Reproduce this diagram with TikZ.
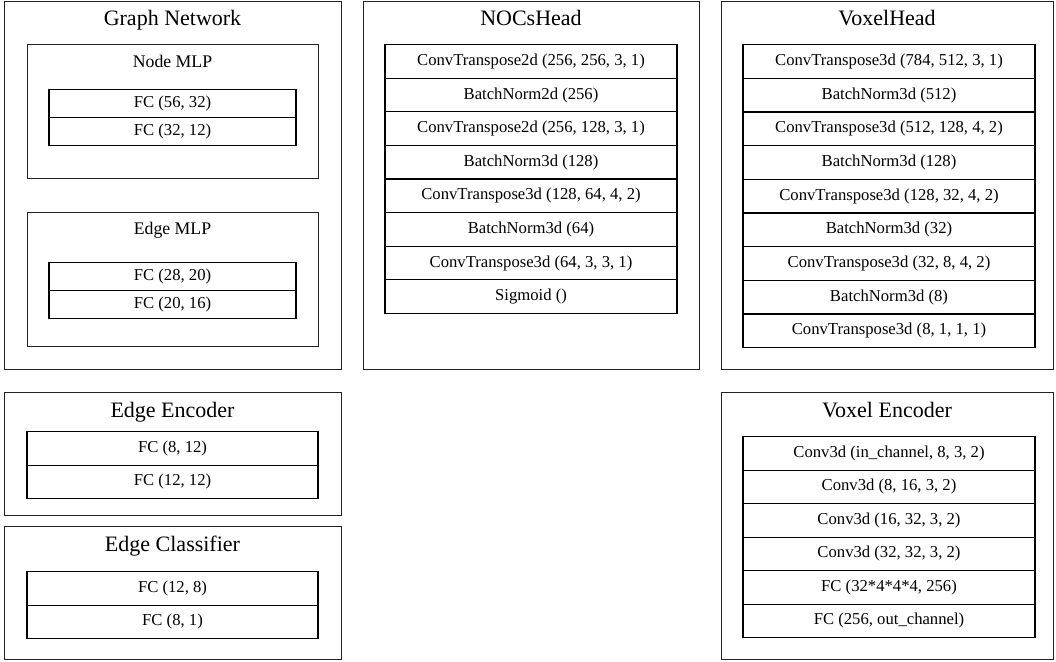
\documentclass[tikz,border=0pt]{standalone}
\usepackage{fontspec}
\setmainfont{Liberation Serif}
\definecolor{linec}{HTML}{222222}
\tikzset{
  panel/.style={draw=linec, line width=0.9pt, rectangle, inner sep=0pt, anchor=north west},
  titletext/.style={font=\fontsize{16.5}{18}\selectfont, anchor=base, inner sep=0pt},
  subtext/.style={font=\fontsize{13.3}{15}\selectfont, anchor=base, inner sep=0pt},
  layerbox/.style={draw=black, line width=0.9pt, rectangle, inner sep=0pt, anchor=north,
    font=\fontsize{12.5}{14}\selectfont},
}
\begin{document}
\begin{tikzpicture}[x=0.75pt,y=-0.75pt]
\useasboundingbox (0,0) rectangle (1056,661);

% ---------- Graph Network ----------
\node[panel, minimum width=337*0.75pt, minimum height=368*0.75pt] (gn) at (4,1) {};
\node[titletext] (gnt) at (172.5,25) {Graph Network};
\node[panel, minimum width=291*0.75pt, minimum height=134*0.75pt] (nm) at (27,44) {};
\node[subtext] (nmt) at (172.5,67) {Node MLP};
\node[layerbox, minimum width=247*0.75pt, minimum height=28*0.75pt] (nm1) at (172.5,89) {FC (56, 32)};
\node[layerbox, minimum width=247*0.75pt, minimum height=28*0.75pt] (nm2) at (172.5,117) {FC (32, 12)};
\node[panel, minimum width=291*0.75pt, minimum height=134*0.75pt] (em) at (27,212) {};
\node[subtext] (emt) at (172.5,234) {Edge MLP};
\node[layerbox, minimum width=247*0.75pt, minimum height=28*0.75pt] (em1) at (172.5,262) {FC (28, 20)};
\node[layerbox, minimum width=247*0.75pt, minimum height=28*0.75pt] (em2) at (172.5,290) {FC (20, 16)};

% ---------- NOCsHead ----------
\node[panel, minimum width=336*0.75pt, minimum height=368*0.75pt] (nh) at (363,1) {};
\node[titletext] (nht) at (531,25) {NOCsHead};
\foreach \t [count=\i from 0] in {ConvTranspose2d (256{,} 256{,} 3{,} 1),BatchNorm2d (256),ConvTranspose2d (256{,} 128{,} 3{,} 1),BatchNorm3d (128),ConvTranspose3d (128{,} 64{,} 4{,} 2),BatchNorm3d (64),ConvTranspose3d (64{,} 3{,} 3{,} 1),Sigmoid ()}
  \node[layerbox, minimum width=292*0.75pt, minimum height=33.6*0.75pt] (nh\i) at (531,44+33.6*\i) {\t};

% ---------- VoxelHead ----------
\node[panel, minimum width=332*0.75pt, minimum height=368*0.75pt] (vh) at (721,1) {};
\node[titletext] (vht) at (887,25) {VoxelHead};
\foreach \t [count=\i from 0] in {ConvTranspose3d (784{,} 512{,} 3{,} 1),BatchNorm3d (512),ConvTranspose3d (512{,} 128{,} 4{,} 2),BatchNorm3d (128),ConvTranspose3d (128{,} 32{,} 4{,} 2),BatchNorm3d (32),ConvTranspose3d (32{,} 8{,} 4{,} 2),BatchNorm3d (8),ConvTranspose3d (8{,} 1{,} 1{,} 1)}
  \node[layerbox, minimum width=292*0.75pt, minimum height=33.67*0.75pt] (vh\i) at (889,44+33.67*\i) {\t};

% ---------- Edge Encoder ----------
\node[panel, minimum width=337*0.75pt, minimum height=123*0.75pt] (ee) at (4,392) {};
\node[titletext] (eet) at (172.5,417) {Edge Encoder};
\node[layerbox, minimum width=291*0.75pt, minimum height=33.5*0.75pt] (ee1) at (172.5,431) {FC (8, 12)};
\node[layerbox, minimum width=291*0.75pt, minimum height=33.5*0.75pt] (ee2) at (172.5,464.5) {FC (12, 12)};

% ---------- Edge Classifier ----------
\node[panel, minimum width=337*0.75pt, minimum height=133*0.75pt] (ec) at (4,526) {};
\node[titletext] (ect) at (172.5,551) {Edge Classifier};
\node[layerbox, minimum width=291*0.75pt, minimum height=33.5*0.75pt] (ec1) at (172.5,571) {FC (12, 8)};
\node[layerbox, minimum width=291*0.75pt, minimum height=33.5*0.75pt] (ec2) at (172.5,604.5) {FC (8, 1)};

% ---------- Voxel Encoder ----------
\node[panel, minimum width=332*0.75pt, minimum height=267*0.75pt] (ve) at (721,392) {};
\node[titletext] (vet) at (887,417) {Voxel Encoder};
\foreach \t [count=\i from 0] in {Conv3d (in\_channel{,} 8{,} 3{,} 2),Conv3d (8{,} 16{,} 3{,} 2),Conv3d (16{,} 32{,} 3{,} 2),Conv3d (32{,} 32{,} 3{,} 2),FC (32*4*4*4{,} 256),FC (256{,} out\_channel)}
  \node[layerbox, minimum width=292*0.75pt, minimum height=33.5*0.75pt] (ve\i) at (889,436+33.5*\i) {\t};
\end{tikzpicture}
\end{document}
